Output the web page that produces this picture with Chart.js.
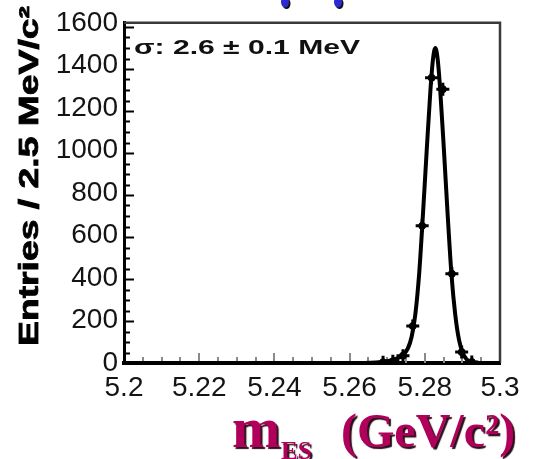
<!DOCTYPE html>
<html><head><meta charset="utf-8">
<script src="https://cdn.jsdelivr.net/npm/chart.js@4.4.1/dist/chart.umd.min.js"></script>
<style>html,body{margin:0;padding:0;background:#fff;overflow:hidden}#wrap{width:538px;height:459px;position:relative}</style>
</head><body><div id="wrap"><canvas id="c" width="538" height="459"></canvas></div>
<script>
// ---- data ----
const pointX = [5.2689, 5.2715, 5.2742, 5.2768, 5.2793, 5.2818, 5.2848, 5.2872, 5.2898, 5.2925];
const pointY = [4, 8, 35, 176, 653, 1358, 1304, 425, 52, 5];
const curveX = [5.2000, 5.2640, 5.2670, 5.2700, 5.2720, 5.2740, 5.2755, 5.2765, 5.2775, 5.2785, 5.2795, 5.2805, 5.2815, 5.2822, 5.2828, 5.2834, 5.2841, 5.2851, 5.2861, 5.2871, 5.2881, 5.2891, 5.2901, 5.2911, 5.2921, 5.2935, 5.2950, 5.3000];
const curveY = [0, 0, 2, 8, 18, 35, 70, 125, 235, 425, 705, 1010, 1300, 1450, 1500, 1450, 1300, 1010, 700, 420, 230, 110, 48, 18, 6, 1, 0, 0];
const xTickLabels = ['5.2', '5.22', '5.24', '5.26', '5.28', '5.3'];
const yTickLabels = ['0', '200', '400', '600', '800', '1000', '1200', '1400', '1600'];
const yTitle = 'Entries / 2.5 MeV/c²';
const sigmaText = 'σ: 2.6 ± 0.1 MeV';
const xTitleMain = 'm';
const xTitleSub = 'ES';
const xTitleUnit = '(GeV/c²)';

const toXY = (xs, ys) => xs.map((x, i) => ({x: x, y: ys[i]}));

const framePlugin = {
  id: 'frame',
  beforeDatasetsDraw(chart) {
    const {ctx, chartArea: a, scales} = chart;
    ctx.save();
    ctx.strokeStyle = '#3a3a3a';
    ctx.lineWidth = 2.5;
    ctx.beginPath();
    ctx.moveTo(a.left, a.top); ctx.lineTo(a.right, a.top); ctx.lineTo(a.right, a.bottom);
    ctx.stroke();
    const ys = scales.y;
    ctx.strokeStyle = '#000';
    ctx.lineWidth = 2;
    for (let v = 0; v <= 1600; v += 50) {
      const py = Math.round(ys.getPixelForValue(v)) + 0.5;
      const len = (v % 200 === 0) ? 10 : 6;
      ctx.beginPath(); ctx.moveTo(a.left, py); ctx.lineTo(a.left + len, py); ctx.stroke();
    }
    const xs = scales.x;
    ctx.strokeStyle = '#8a8a8a';
    ctx.lineWidth = 2;
    for (let k = 1; k < 20; k++) {
      const v = 5.2 + k * 0.005;
      const px = Math.round(xs.getPixelForValue(v));
      const len = (k % 4 === 0) ? 10 : 6;
      ctx.beginPath(); ctx.moveTo(px, a.bottom); ctx.lineTo(px, a.bottom - len); ctx.stroke();
    }
    ctx.restore();
  },
  afterDraw(chart) {
    const {ctx, chartArea: a} = chart;
    ctx.save();
    // sigma annotation (wide lettering)
    ctx.font = 'bold 21px "Liberation Sans", Arial, sans-serif';
    ctx.fillStyle = '#111';
    ctx.textBaseline = 'alphabetic';
    ctx.textAlign = 'left';
    let w = ctx.measureText(sigmaText).width;
    ctx.save();
    ctx.translate(a.left + 10, 54);
    ctx.scale(226 / w, 1);
    ctx.fillText(sigmaText, 0, 0);
    ctx.restore();

    // y title
    ctx.font = 'bold 28px "Liberation Sans", Arial, sans-serif';
    ctx.fillStyle = '#000';
    ctx.strokeStyle = '#000';
    ctx.lineWidth = 0.8;
    w = ctx.measureText(yTitle).width;
    ctx.save();
    ctx.translate(38, 176);
    ctx.rotate(-Math.PI / 2);
    ctx.scale(340 / w, 1);
    ctx.textAlign = 'center';
    ctx.fillText(yTitle, 0, 0);
    ctx.strokeText(yTitle, 0, 0);
    ctx.restore();

    // x title, crimson with dark shadow
    ctx.fillStyle = '#b0005c';
    ctx.shadowColor = 'rgba(30,0,10,0.95)';
    ctx.shadowOffsetX = 2;
    ctx.shadowOffsetY = 2;
    ctx.shadowBlur = 1;
    ctx.textAlign = 'left';
    ctx.font = 'bold 58px "Liberation Serif", "Times New Roman", serif';
    ctx.fillText(xTitleMain, 232, 447);
    ctx.font = 'bold 25px "Liberation Serif", "Times New Roman", serif';
    ctx.fillText(xTitleSub, 281, 459);
    ctx.font = 'bold 48px "Liberation Serif", "Times New Roman", serif';
    ctx.fillText(xTitleUnit, 341, 447);
    ctx.shadowColor = 'transparent';

    // blue fragments at top edge
    [[285, 2], [338, 2]].forEach(([cx, cy]) => {
      ctx.fillStyle = '#111';
      ctx.beginPath(); ctx.ellipse(cx + 1.5, cy + 1.5, 4, 5.5, 0, 0, Math.PI * 2); ctx.fill();
      ctx.fillStyle = '#2b2bd0';
      ctx.beginPath(); ctx.ellipse(cx, cy, 4, 5.5, 0, 0, Math.PI * 2); ctx.fill();
    });
    ctx.restore();
  }
};

new Chart(document.getElementById('c'), {
  type: 'scatter',
  data: {
    datasets: [
      {
        type: 'line',
        data: toXY(curveX, curveY),
        borderColor: '#000',
        borderWidth: 4,
        pointRadius: 0,
        fill: false,
        cubicInterpolationMode: 'monotone',
        order: 3
      },
      {
        data: toXY(pointX, pointY),
        pointStyle: 'cross',
        pointRadius: 6.5,
        borderColor: '#000',
        borderWidth: 3,
        order: 2
      },
      {
        data: toXY(pointX, pointY),
        pointStyle: 'circle',
        pointRadius: 3.5,
        backgroundColor: '#000',
        borderColor: '#000',
        borderWidth: 1,
        order: 1
      }
    ]
  },
  options: {
    responsive: false,
    animation: false,
    devicePixelRatio: 1,
    layout: {padding: {top: 12.5, right: 38, left: 0, bottom: 0}},
    plugins: {legend: {display: false}, tooltip: {enabled: false}},
    scales: {
      x: {
        type: 'linear', min: 5.2, max: 5.3,
        grid: {display: false, drawTicks: false},
        border: {display: true, color: '#000', width: 4},
        ticks: {
          stepSize: 0.02, autoSkip: false, maxRotation: 0, includeBounds: false,
          padding: 8, color: '#141414',
          font: {family: '"Liberation Sans", Arial, sans-serif', size: 28},
          callback: (v) => xTickLabels[Math.round((v - 5.2) / 0.02)]
        },
        afterFit: (s) => { s.height = 96; }
      },
      y: {
        type: 'linear', min: 0, max: 1620,
        grid: {display: false, drawTicks: false},
        border: {display: true, color: '#000', width: 3},
        ticks: {
          stepSize: 200, autoSkip: false, includeBounds: false,
          padding: 6, color: '#141414',
          font: {family: '"Liberation Sans", Arial, sans-serif', size: 28},
          callback: (v) => yTickLabels[Math.round(v / 200)]
        },
        afterFit: (s) => { s.width = 124; }
      }
    }
  },
  plugins: [framePlugin]
});
</script>
</body></html>
